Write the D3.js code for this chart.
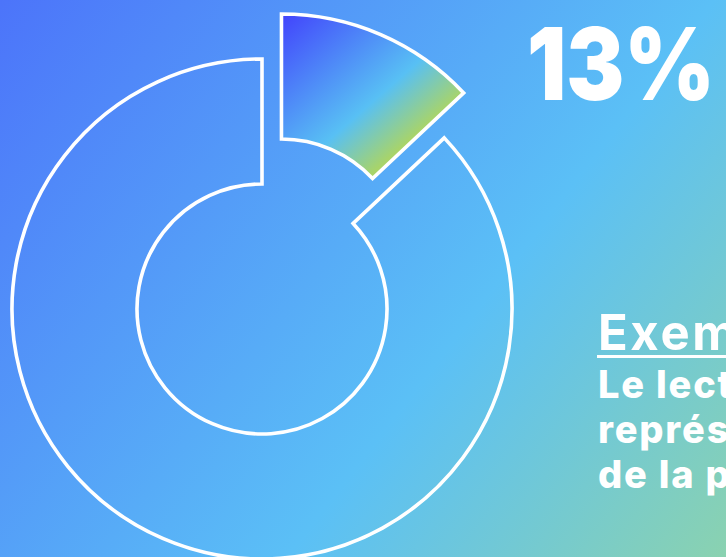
<!DOCTYPE html>
<html><head><meta charset="utf-8">
<script src="https://cdn.jsdelivr.net/npm/d3@7"></script>
<style>html,body{margin:0;padding:0;overflow:hidden;}svg{display:block;}</style>
</head><body>
<svg id="chart" width="726" height="557"></svg>
<script>
const categories = ["Part mise en avant", "Reste"];
const values = [13, 87];
const highlightLabel = "13%";
const titleText = "Exemple :";
const bodyLines = ["Le lecteur type", "représente 13 %", "de la population"];

const W = 726, H = 557;
const svg = d3.select("#chart");
const defs = svg.append("defs");

const bg = defs.append("linearGradient").attr("id", "bg")
  .attr("gradientUnits", "userSpaceOnUse")
  .attr("x1", 0).attr("y1", 0).attr("x2", W).attr("y2", H);
bg.append("stop").attr("offset", 0).attr("stop-color", "#4c74fa");
bg.append("stop").attr("offset", 0.62).attr("stop-color", "#5bc0f6");
bg.append("stop").attr("offset", 1).attr("stop-color", "#8ad2b0");

svg.append("rect").attr("width", W).attr("height", H).attr("fill", "url(#bg)");

const cx = 262, cy = 309, R = 250, r = 125, explode = 49;

// slice gradient, in the slice's local coordinates (centre of donut = origin)
const sg = defs.append("linearGradient").attr("id", "slice")
  .attr("gradientUnits", "userSpaceOnUse")
  .attr("x1", 1).attr("y1", -249).attr("x2", 118).attr("y2", -115);
sg.append("stop").attr("offset", 0).attr("stop-color", "#4244fc");
sg.append("stop").attr("offset", 0.70).attr("stop-color", "#58c0f4");
sg.append("stop").attr("offset", 1).attr("stop-color", "#a8d46a");

const pie = d3.pie().sort(null).startAngle(0).endAngle(2 * Math.PI);
const arc = d3.arc().innerRadius(r).outerRadius(R);
const arcs = pie(values);

const g = svg.append("g").attr("transform", `translate(${cx},${cy})`);
g.selectAll("path").data(arcs).join("path")
  .attr("d", arc)
  .attr("transform", (d, i) => {
    if (i !== 0) return null;
    const a = (d.startAngle + d.endAngle) / 2;
    return `translate(${explode * Math.sin(a)},${-explode * Math.cos(a)})`;
  })
  .attr("fill", (d, i) => i === 0 ? "url(#slice)" : "none")
  .attr("stroke", "#fff")
  .attr("stroke-width", 3.6)
  .attr("stroke-linejoin", "miter");

svg.append("text")
  .attr("x", 527).attr("y", 100)
  .attr("font-family", "Inter, sans-serif")
  .attr("font-weight", 900)
  .attr("font-size", 100)
  .attr("fill", "#fff")
  .attr("textLength", 188)
  .attr("lengthAdjust", "spacingAndGlyphs")
  .text(highlightLabel);

svg.append("text")
  .attr("x", 598).attr("y", 350)
  .attr("font-family", "Inter, sans-serif")
  .attr("font-weight", 700)
  .attr("font-size", 49)
  .attr("letter-spacing", 2.6)
  .attr("fill", "#fff")
  .text(titleText);
svg.append("rect").attr("x", 597).attr("y", 355).attr("width", 200).attr("height", 3).attr("fill", "#fff");

svg.append("g").selectAll("text").data(bodyLines).join("text")
  .attr("x", 598)
  .attr("y", (d, i) => 398 + i * 45)
  .attr("font-family", "Inter, sans-serif")
  .attr("font-weight", 800)
  .attr("font-size", 38)
  .attr("letter-spacing", 1.8)
  .attr("fill", "#fff")
  .text(d => d);
</script>
</body></html>
